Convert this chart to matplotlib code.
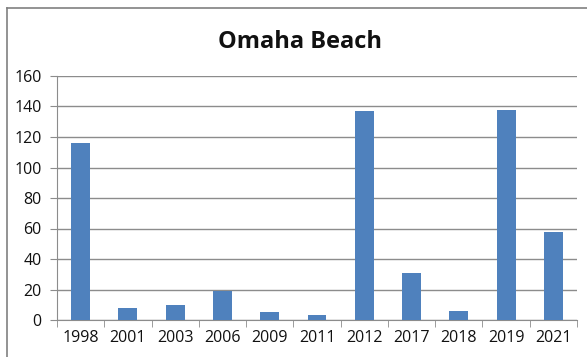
import matplotlib.pyplot as plt
from matplotlib.lines import Line2D
import numpy as np

# data
years = ["1998", "2001", "2003", "2006", "2009", "2011", "2012", "2017", "2018", "2019", "2021"]
counts = [116, 8, 10, 19, 5, 3, 137, 31, 6, 138, 58]
yticks = [0, 20, 40, 60, 80, 100, 120, 140, 160]

W, H = 587, 357
fig = plt.figure(figsize=(W / 100, H / 100), dpi=100)
fig.patch.set_facecolor("white")

# plot area in pixels: left 57, right 577, top 76, bottom 320
ax = fig.add_axes([57 / W, 1 - 320 / H, (577 - 57) / W, (320 - 76) / H])

x = np.arange(len(years))
ax.bar(x, counts, width=0.4, color="#4F81BD", zorder=3)

ax.set_xlim(-0.5, len(years) - 0.5)
ax.set_ylim(0, 160)
ax.set_yticks(yticks)
ax.set_yticklabels([str(t) for t in yticks], fontsize=11.5, family="Open Sans", color="#111111")
ax.yaxis.grid(True, color="#8c8c8c", linewidth=1.0, zorder=0)

# category labels centered, tick marks at boundaries
ax.set_xticks(x)
ax.set_xticklabels(years, fontsize=11.5, family="Open Sans", color="#111111")
ax.tick_params(axis="x", length=0, pad=7)
ax.set_xticks(np.arange(len(years) + 1) - 0.5, minor=True)
ax.tick_params(axis="x", which="minor", length=5, color="#8c8c8c", direction="out")
ax.tick_params(axis="y", length=5, color="#8c8c8c", direction="out", pad=6)

for s in ["top", "right"]:
    ax.spines[s].set_visible(False)
ax.spines["left"].set_color("#8c8c8c")
ax.spines["bottom"].set_color("#8c8c8c")

fig.text(300 / W, 1 - 42 / H, "Omaha Beach", ha="center", va="center",
         fontsize=17, fontweight="bold", family="Open Sans", color="#111111")

# chart frame (cropped at the right and bottom)
fig.add_artist(Line2D([7 / W, 7 / W], [0, 1 - 8 / H], color="#808080", linewidth=1.2))
fig.add_artist(Line2D([7 / W, 1], [1 - 8 / H, 1 - 8 / H], color="#808080", linewidth=1.2))

fig.savefig("out.png", dpi=100)
